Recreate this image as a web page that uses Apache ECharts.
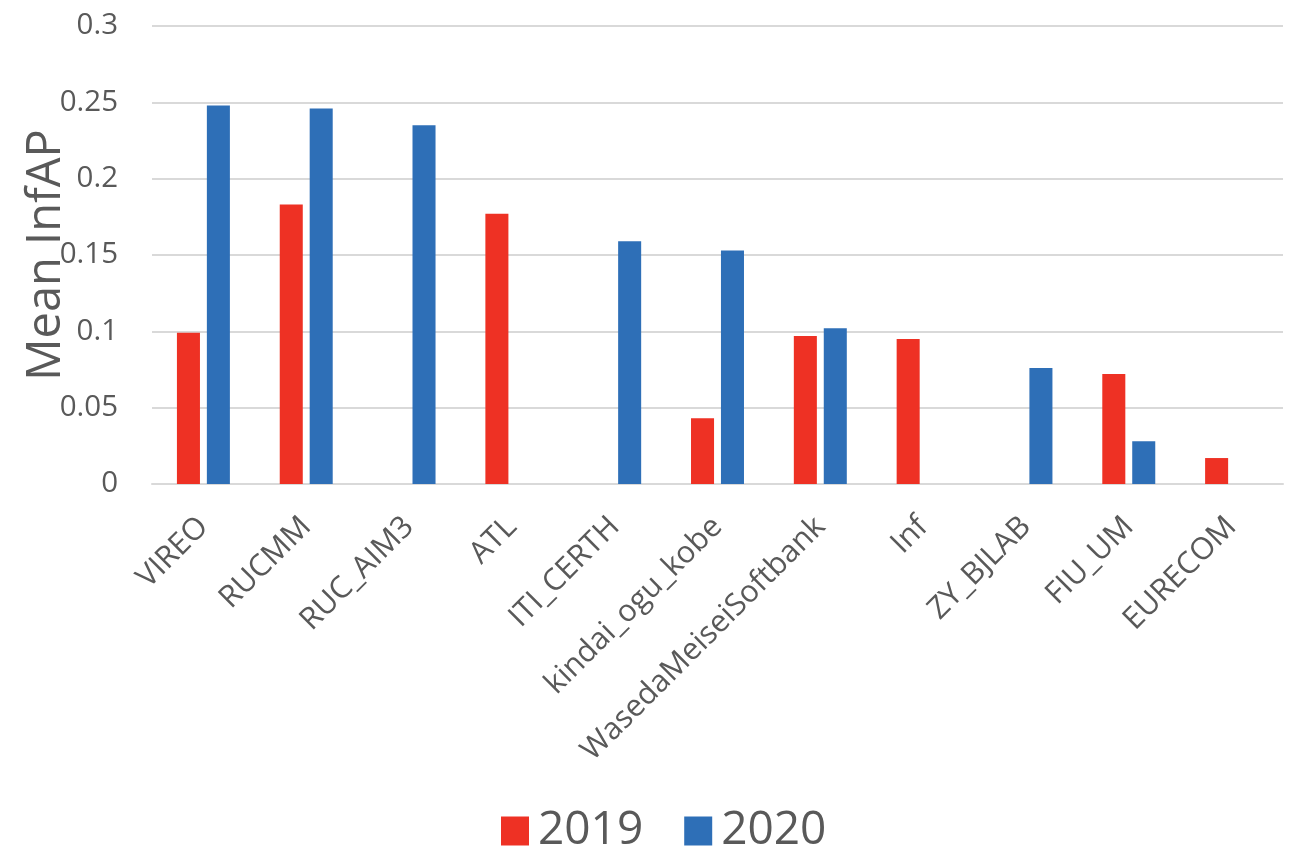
<!DOCTYPE html>
<html>
<head>
<meta charset="utf-8">
<script src="https://cdn.jsdelivr.net/npm/echarts@6/dist/echarts.min.js"></script>
<style>
  html, body { margin: 0; padding: 0; background: #fff; }
  #chart { width: 1292px; height: 864px; }
</style>
</head>
<body>
<div id="chart"></div>
<script>
// teams on the x axis
var teams = ['VIREO', 'RUCMM', 'RUC_AIM3', 'ATL', 'ITI_CERTH', 'kindai_ogu_kobe',
  'WasedaMeiseiSoftbank', 'Inf', 'ZY_BJLAB', 'FIU_UM', 'EURECOM'];
// mean infAP per year, null = no run that year
var y2019 = [0.099, 0.183, null, 0.177, null, 0.043, 0.097, 0.095, null, 0.072, 0.017];
var y2020 = [0.248, 0.246, 0.235, null, 0.159, 0.153, 0.102, null, 0.076, 0.028, null];
var yTicks = [0, 0.05, 0.1, 0.15, 0.2, 0.25, 0.3];

var font = 'Open Sans';
var grey = '#595959';

var myChart = echarts.init(document.getElementById('chart'));

var option = {
  animation: false,
  grid: { left: 152, right: 9, top: 26, bottom: 380, outerBoundsMode: 'none', containLabel: false },
  legend: {
    data: ['2019', '2020'],
    left: 496,
    top: 803,
    itemWidth: 28,
    itemHeight: 29,
    itemGap: 41,
    icon: 'rect',
    textStyle: { fontFamily: font, fontSize: 46, color: grey, padding: [0, 0, 0, 4] }
  },
  xAxis: {
    type: 'category',
    data: teams,
    axisLine: { lineStyle: { color: '#d9d9d9', width: 2 } },
    axisTick: { show: false },
    axisLabel: {
      rotate: 45,
      interval: 0,
      margin: 38,
      fontFamily: font,
      fontSize: 30.5,
      color: grey
    }
  },
  yAxis: {
    type: 'value',
    min: 0,
    max: yTicks[yTicks.length - 1],
    interval: 0.05,
    name: 'Mean InfAP',
    nameLocation: 'middle',
    nameGap: 82,
    nameMoveOverlap: false,
    nameTextStyle: { fontFamily: font, fontSize: 47, color: grey },
    axisLine: { show: false },
    axisTick: { show: false },
    splitLine: { lineStyle: { color: '#d9d9d9', width: 2 } },
    axisLabel: {
      margin: 34,
      fontFamily: font,
      fontSize: 29.5,
      color: grey,
      formatter: function (v) { return String(+v.toFixed(2)); }
    }
  },
  series: [
    {
      name: '2019',
      type: 'bar',
      data: y2019,
      barWidth: '22.4%',
      barGap: '30%',
      itemStyle: { color: '#ee3124' }
    },
    {
      name: '2020',
      type: 'bar',
      data: y2020,
      barWidth: '22.4%',
      itemStyle: { color: '#2e6fb7' }
    }
  ]
};

myChart.setOption(option);
</script>
</body>
</html>
